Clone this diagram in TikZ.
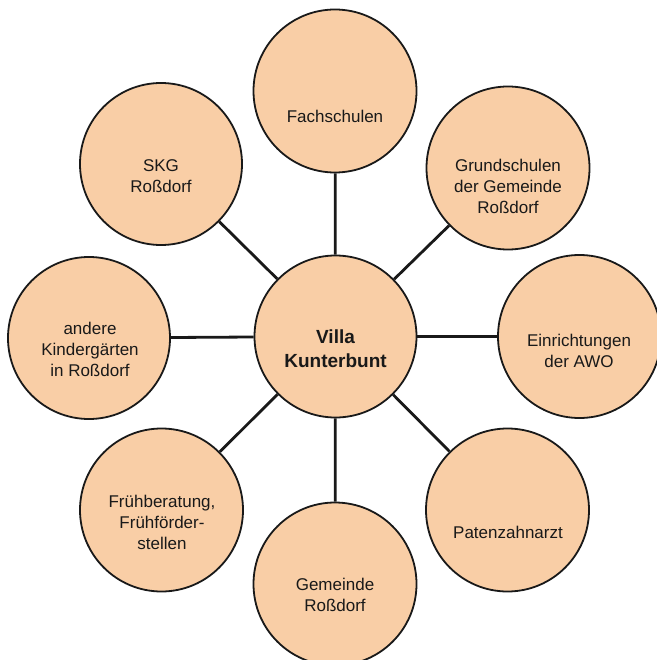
\documentclass[tikz,border=0pt]{standalone}
\usepackage{fontspec}
\setmainfont{Liberation Sans}
\definecolor{peach}{RGB}{249,206,166}
\definecolor{ink}{RGB}{25,25,25}
\begin{document}
\begin{tikzpicture}[x=1pt,y=-1pt,
  bub/.style={circle,draw=ink,line width=1.8pt,fill=peach,minimum size=#1,inner sep=0pt},
  bub/.default=163pt,
  lbl/.style={align=center,text=ink,font=\fontsize{17}{21}\selectfont,inner sep=0pt},
  link/.style={draw=ink,line width=2.8pt}]
\useasboundingbox[fill=white] (0,0) rectangle (656,660);
\node[bub=162pt] (c0) at (335.5,336.5) {};
\node[bub] (c1) at (335,91) {};
\node[bub] (c2) at (508,168) {};
\node[bub] (c3) at (579.5,336.5) {};
\node[bub] (c4) at (507.5,510) {};
\node[bub] (c5) at (335,584) {};
\node[bub] (c6) at (161.5,510) {};
\node[bub=162pt] (c7) at (89,338) {};
\node[bub=162pt] (c8) at (161,164) {};
\foreach \i in {1,...,8} {\draw[link] (c0) -- (c\i);}
\node[lbl,font=\bfseries\fontsize{19}{24}\selectfont] (t0) at (335.5,349) {Villa\\Kunterbunt};
\node[lbl] (t1) at (335,116) {Fachschulen};
\node[lbl] (t2) at (508,186) {Grundschulen\\der Gemeinde\\Roßdorf};
\node[lbl] (t3) at (579,351) {Einrichtungen\\der AWO};
\node[lbl] (t4) at (508,532) {Patenzahnarzt};
\node[lbl] (t5) at (335,595) {Gemeinde\\Roßdorf};
\node[lbl] (t6) at (162,522) {Frühberatung,\\Frühförder-\\stellen};
\node[lbl] (t7) at (90,349) {andere\\Kindergärten\\in Roßdorf};
\node[lbl] (t8) at (161,176) {SKG\\Roßdorf};
\end{tikzpicture}
\end{document}
